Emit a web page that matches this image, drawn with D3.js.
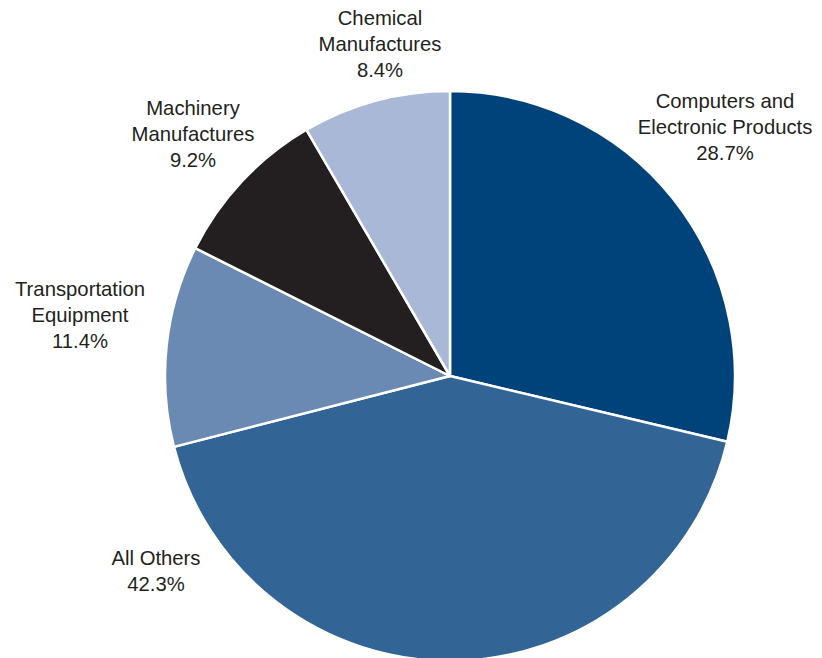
<!DOCTYPE html>
<html>
<head>
<meta charset="utf-8">
<script src="https://cdn.jsdelivr.net/npm/d3@7/dist/d3.min.js"></script>
<style>
  html, body { margin: 0; padding: 0; background: #ffffff; }
  svg { display: block; }
  text { font-family: "Liberation Sans", Arial, Helvetica, sans-serif; fill: #231f20; }
</style>
</head>
<body>
<svg id="chart" width="822" height="658"></svg>
<script>
// Share of total by sector, clockwise from 12 o'clock
const categories = [
  "Computers and Electronic Products",
  "All Others",
  "Transportation Equipment",
  "Machinery Manufactures",
  "Chemical Manufactures"
];
const shares = [28.7, 42.3, 11.4, 9.2, 8.4];
const labelLines = [
  ["Computers and", "Electronic Products"],
  ["All Others"],
  ["Transportation", "Equipment"],
  ["Machinery", "Manufactures"],
  ["Chemical", "Manufactures"]
];
const colors = ["#00437b", "#326496", "#6a89b3", "#231f20", "#a9b8d7"];

// Label anchors (centre of first line) in page pixels
const labelAnchor = [
  [725, 108], [156, 565], [80, 296], [193, 115], [380, 25]
];

const svg = d3.select("#chart");
const cx = 450, cy = 376, radius = 285;
const lineHeight = 26;

const data = categories.map((c, i) => ({ name: c, value: shares[i], lines: labelLines[i], i }));

const pie = d3.pie().sort(null).value(d => d.value);
const arc = d3.arc().innerRadius(0).outerRadius(radius);
const color = d3.scaleOrdinal().domain(categories).range(colors);
const fmt = d3.format(".1f");

const g = svg.append("g").attr("transform", `translate(${cx},${cy})`);

g.selectAll("path.slice")
  .data(pie(data))
  .join("path")
  .attr("class", "slice")
  .attr("d", arc)
  .attr("fill", d => color(d.data.name))
  .attr("stroke", "#ffffff")
  .attr("stroke-width", 2.5)
  .attr("stroke-linejoin", "round");

const labels = svg.selectAll("text.label")
  .data(data)
  .join("text")
  .attr("class", "label")
  .attr("text-anchor", "middle")
  .attr("font-size", "20.3px")
  .attr("x", d => labelAnchor[d.i][0])
  .attr("y", d => labelAnchor[d.i][1]);

labels.each(function(d) {
  const t = d3.select(this);
  const rows = d.lines.concat([fmt(d.value) + "%"]);
  rows.forEach((r, k) => {
    t.append("tspan")
      .attr("x", labelAnchor[d.i][0])
      .attr("dy", k === 0 ? 0 : lineHeight)
      .text(r);
  });
});
</script>
</body>
</html>
